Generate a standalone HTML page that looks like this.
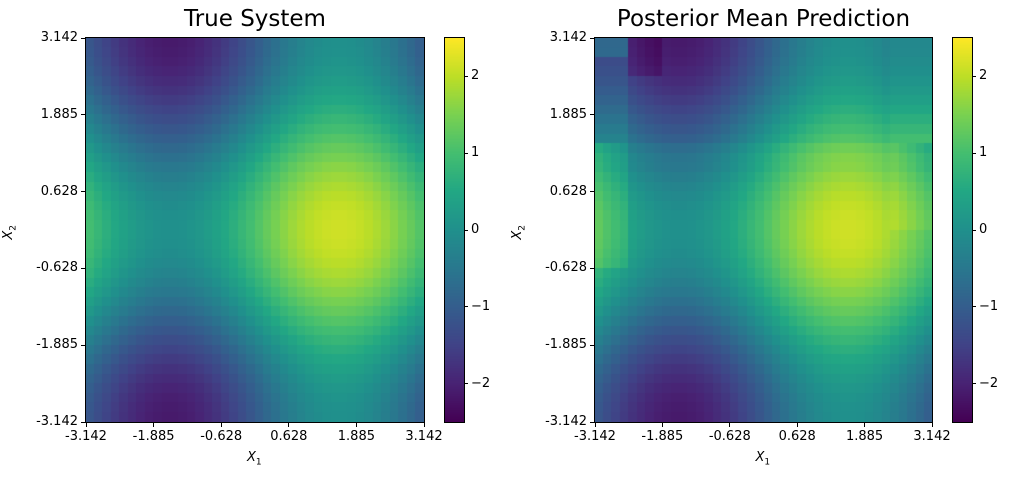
<!DOCTYPE html>
<html><head><meta charset="utf-8"><style>
body{margin:0;background:#fff;width:1012px;height:478px;position:relative;overflow:hidden;font-family:"DejaVu Sans","Liberation Sans",sans-serif;color:#000}
canvas{position:absolute}
.t{position:absolute;font-size:13px;white-space:nowrap;line-height:15px}
.title{position:absolute;font-size:23px;top:5px;text-align:center;line-height:28px}
.box{position:absolute;border:1px solid #000;box-sizing:border-box}
.tk{position:absolute;background:#000}
</style></head><body>
<canvas id="c1" width="338" height="384" style="left:86px;top:38px"></canvas>
<canvas id="c2" width="338" height="384" style="left:595px;top:38px"></canvas>
<canvas id="b1" width="19" height="384" style="left:445px;top:38px"></canvas>
<canvas id="b2" width="19" height="384" style="left:953px;top:38px"></canvas>
<div id="ov"></div>
<script>
const V=[[68,1,84],[72,35,116],[64,67,135],[52,94,141],[41,120,142],[32,144,140],[34,167,132],[68,190,112],[121,209,81],[189,222,38],[253,231,37]];
function vir(t){t=Math.max(0,Math.min(1,t))*10;let i=Math.min(9,Math.floor(t)),f=t-i,a=V[i],b=V[i+1];return `rgb(${a.map((v,k)=>Math.round(v+(b[k]-v)*f)).join(',')})`;}
const N=40,P=Math.PI;
function f(i,j){let x1=-P+2*P*(i+0.5)/N,x2=P-2*P*(j+0.5)/N;return 1.07*Math.sin(x1)+1.07*Math.cos(x2);}
function g(i,j){let v=f(i,j);
 if(i<4&&j<11)v=f(4,j)+0.35-(j<2?-0.6:0);
 if(i<4&&j>=11&&j<24)v+=0.3;
 if(j>=11&&j<13)v+=0.1;
 if(i>=35&&j<11)v=f(35,j)+0.2;
 if(i>=35&&j>=11&&j<20)v+=0.15;
 if(i>=4&&i<8&&j<4)v-=0.3;
 return v;}
function draw(id,fn){const c=document.getElementById(id).getContext('2d');const w=338/N,h=384/N;
 for(let i=0;i<N;i++)for(let j=0;j<N;j++){c.fillStyle=vir((fn(i,j)+2.5)/5);c.fillRect(Math.floor(i*w),Math.floor(j*h),Math.ceil(w)+1,Math.ceil(h)+1);}}
draw('c1',f);draw('c2',g);
['b1','b2'].forEach(id=>{const c=document.getElementById(id).getContext('2d');for(let y=0;y<384;y++){c.fillStyle=vir(1-y/383);c.fillRect(0,y,19,1);}});
let h='';
function axes(L,W,cb,title){
 h+=`<div class="box" style="left:${L-1}px;top:37px;width:${W+2}px;height:386px"></div>`;
 h+=`<div class="box" style="left:${cb-1}px;top:37px;width:21px;height:386px"></div>`;
 h+=`<div class="title" style="left:${L}px;width:${W}px">${title}</div>`;
 const labs=['-3.142','-1.885','-0.628','0.628','1.885','3.142'];
 for(let k=0;k<6;k++){let x=L+W*k/5,y=422-384*k/5;
  h+=`<div class="tk" style="left:${x-0.5}px;top:423px;width:1px;height:4px"></div>`;
  h+=`<div class="t" style="left:${x-30}px;width:60px;text-align:center;top:429px">${labs[k]}</div>`;
  h+=`<div class="tk" style="left:${L-5}px;top:${y-0.5}px;width:4px;height:1px"></div>`;
  h+=`<div class="t" style="left:${L-70}px;width:62px;text-align:right;top:${y-8}px">${labs[k]}</div>`;}
 for(let v=-2;v<=2;v++){let y=230-76.8*v;
  h+=`<div class="tk" style="left:${cb+19}px;top:${y-0.5}px;width:4px;height:1px"></div>`;
  h+=`<div class="t" style="left:${cb+26}px;top:${y-8}px">${v<0?'\u2212'+(-v):v}</div>`;}
 h+=`<div class="t" style="left:${L+W/2-8}px;top:450px;font-size:13px"><i>X</i><sub style="font-size:9px">1</sub></div>`;
 h+=`<div class="t" style="left:${L-82}px;top:222px;font-size:13px;transform:rotate(-90deg)"><i>X</i><sub style="font-size:9px">2</sub></div>`;
}
axes(86,338,445,'True System');axes(595,337,953,'Posterior Mean Prediction');
document.getElementById('ov').innerHTML=h;
</script>
</body></html>
